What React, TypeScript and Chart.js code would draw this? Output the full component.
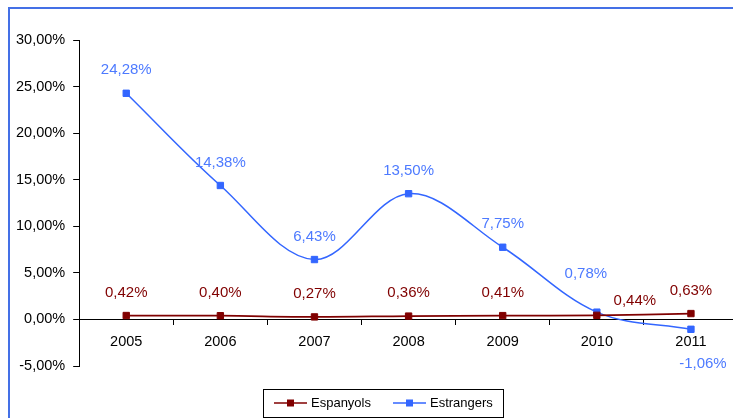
import React, { useEffect, useRef } from 'react';
import { Chart, registerables } from 'chart.js';

Chart.register(...registerables);

// ---- data ----
const years = ['2005', '2006', '2007', '2008', '2009', '2010', '2011'];
const espanyols = [0.42, 0.40, 0.27, 0.36, 0.41, 0.44, 0.63];
const estrangers = [24.28, 14.38, 6.43, 13.50, 7.75, 0.78, -1.06];
const seriesNames = ['Espanyols', 'Estrangers'];
const yMin = -5;
const yMax = 30;
const yStep = 5;

const RED = '#800000';
const BLUE = '#3366FF';
const BLUE_LABEL = '#4D7AFF';

const fmt = (v: number) => v.toFixed(2).replace('.', ',') + '%';

// label offsets (dx, dy) relative to each point; default is above
const labelOffsets: Record<number, Record<number, [number, number]>> = {
  0: { 5: [38, -14] },
  1: { 5: [-11, -38], 6: [12, 35] },
};

const pointLabelsPlugin = {
  id: 'pointLabels',
  afterDatasetsDraw(chart: any) {
    const ctx = chart.ctx;
    ctx.save();
    ctx.font = '15px Arial, "Liberation Sans", sans-serif';
    ctx.textAlign = 'center';
    ctx.textBaseline = 'middle';
    chart.data.datasets.forEach((ds: any, di: number) => {
      const meta = chart.getDatasetMeta(di);
      meta.data.forEach((pt: any, i: number) => {
        const off = (labelOffsets[di] && labelOffsets[di][i]) || [0, -23];
        ctx.fillStyle = di === 0 ? RED : BLUE_LABEL;
        ctx.fillText(fmt(ds.data[i]), pt.x + off[0], pt.y + off[1]);
      });
    });
    ctx.restore();
  },
};

const legendBoxPlugin = {
  id: 'legendBox',
  afterDraw(chart: any) {
    const ctx = chart.ctx;
    ctx.save();
    const bx = 255.5, by = 380.5, bw = 240, bh = 28;
    ctx.strokeStyle = '#000';
    ctx.lineWidth = 1;
    ctx.strokeRect(bx, by, bw, bh);
    const cy = by + bh / 2 - 0.5;
    const items = [
      { x: 266, color: RED, text: seriesNames[0] },
      { x: 385, color: BLUE, text: seriesNames[1] },
    ];
    ctx.font = '13px Arial, "Liberation Sans", sans-serif';
    ctx.textBaseline = 'middle';
    ctx.textAlign = 'left';
    items.forEach((it) => {
      ctx.strokeStyle = it.color;
      ctx.lineWidth = 1.5;
      ctx.beginPath();
      ctx.moveTo(it.x, cy);
      ctx.lineTo(it.x + 33, cy);
      ctx.stroke();
      ctx.fillStyle = it.color;
      ctx.fillRect(it.x + 16.5 - 3.5, cy - 3.5, 7, 7);
      ctx.fillStyle = '#000';
      ctx.fillText(it.text, it.x + 37, cy + 0.5);
    });
    ctx.restore();
  },
};

export default function App() {
  const canvasRef = useRef<HTMLCanvasElement | null>(null);

  useEffect(() => {
    if (!canvasRef.current) return;
    Chart.defaults.font.family = 'Arial, "Liberation Sans", sans-serif';
    const chart = new Chart(canvasRef.current, {
      type: 'line',
      data: {
        labels: years,
        datasets: [
          {
            label: seriesNames[0],
            data: espanyols,
            borderColor: RED,
            backgroundColor: RED,
            borderWidth: 1.75,
            pointStyle: 'rect',
            pointRadius: 4.5,
            pointBorderWidth: 1,
            pointBackgroundColor: RED,
            pointBorderColor: RED,
            tension: 0.35,
          },
          {
            label: seriesNames[1],
            data: estrangers,
            borderColor: BLUE,
            backgroundColor: BLUE,
            borderWidth: 1.5,
            pointStyle: 'rect',
            pointRadius: 4.5,
            pointBorderWidth: 1,
            pointBackgroundColor: BLUE,
            pointBorderColor: BLUE,
            tension: 0.35,
          },
        ],
      },
      options: {
        responsive: true,
        maintainAspectRatio: false,
        animation: false,
        layout: { padding: { left: 0, top: 31, right: 12, bottom: 52 } },
        plugins: {
          legend: { display: false },
          tooltip: { enabled: false },
        },
        scales: {
          x: {
            type: 'category',
            position: { y: 0 } as any,
            offset: true,
            grid: {
              offset: true,
              drawOnChartArea: false,
              drawTicks: true,
              tickLength: 5,
              color: '#000',
            },
            border: { color: '#000', width: 1 },
            ticks: {
              color: '#000',
              font: { size: 14.5 },
              padding: 9,
              maxRotation: 0,
            },
          },
          y: {
            min: yMin,
            max: yMax,
            grid: {
              drawOnChartArea: false,
              drawTicks: true,
              tickLength: 6,
              color: '#000',
            },
            border: { color: '#000', width: 1 },
            ticks: {
              stepSize: yStep,
              color: '#000',
              font: { size: 14.5 },
              padding: 8,
              callback: (v: any) => fmt(Number(v)),
            },
          },
        },
      },
      plugins: [pointLabelsPlugin, legendBoxPlugin],
    });
    return () => chart.destroy();
  }, []);

  return (
    <div
      style={{
        position: 'fixed',
        left: 8,
        top: 7,
        width: 723,
        height: 409,
        overflow: 'hidden',
        borderLeft: '2px solid #4470E6',
        borderTop: '2px solid #4470E6',
        background: '#fff',
      }}
    >
      <div style={{ position: 'relative', marginLeft: -2, width: 742, height: 409 }}>
        <canvas ref={canvasRef} />
      </div>
    </div>
  );
}
